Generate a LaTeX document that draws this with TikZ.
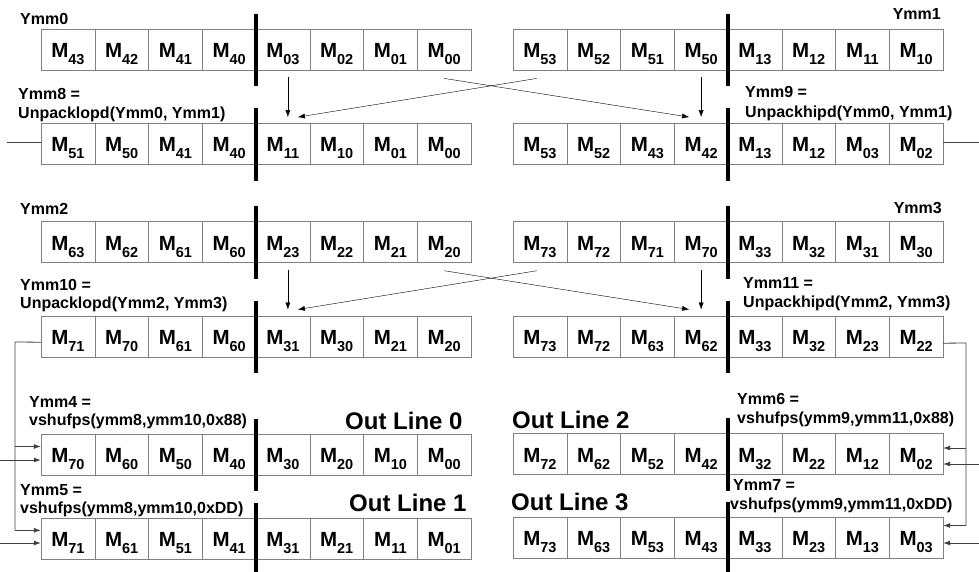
\documentclass[tikz,border=0pt]{standalone}
\usepackage{fontspec}
\setmainfont{Liberation Sans}
\usetikzlibrary{arrows.meta,positioning}

\newcommand{\Msub}[1]{M\raisebox{-7pt}{\fontsize{14.5}{14.5}\selectfont #1}}
\newcommand{\ymmrow}[4]{%
  \foreach \s [count=\i] in {#4}
    \node[cell] (#1-\i) at ({#2+(\i-0.5)*53.75},#3) {\Msub{\s}};
  \draw[lane] ([yshift=15pt]#1-4.north east) -- ([yshift=-16pt]#1-4.south east);
}

\begin{document}
\begin{tikzpicture}[x=1pt,y=-1pt,>={Latex[length=7pt,width=5pt]},
    cell/.style={draw=gray,minimum width=53.75pt,minimum height=41pt,inner sep=0pt,
      text height=24pt,text depth=8pt,font=\fontsize{20.5}{24}\selectfont\bfseries},
    lane/.style={line width=4pt},
    lbl/.style={anchor=base west,inner sep=0pt,font=\fontsize{16}{18}\selectfont\bfseries},
    lblr/.style={lbl,anchor=base east},
    outlbl/.style={lbl,font=\fontsize{24}{28}\selectfont\bfseries},
    link/.style={black!75,line width=0.8pt}]

    \useasboundingbox (0,0) rectangle (979,571);

    \ymmrow{ymm0}{41}{49.7}{43,42,41,40,03,02,01,00}
    \ymmrow{ymm1}{513}{49.7}{53,52,51,50,13,12,11,10}
    \ymmrow{ymm8}{41}{143.8}{51,50,41,40,11,10,01,00}
    \ymmrow{ymm9}{513}{143.8}{53,52,43,42,13,12,03,02}
    \ymmrow{ymm2}{41}{242}{63,62,61,60,23,22,21,20}
    \ymmrow{ymm3}{513}{242}{73,72,71,70,33,32,31,30}
    \ymmrow{ymm10}{41}{336.2}{71,70,61,60,31,30,21,20}
    \ymmrow{ymm11}{513}{336.2}{73,72,63,62,33,32,23,22}
    \ymmrow{ymm4}{41}{454.5}{70,60,50,40,30,20,10,00}
    \ymmrow{ymm6}{513}{454}{72,62,52,42,32,22,12,02}
    \ymmrow{ymm5}{41}{538.3}{71,61,51,41,31,21,11,01}
    \ymmrow{ymm7}{513}{537.5}{73,63,53,43,33,23,13,03}

    \node[lbl] (n0) at (20,24) {Ymm0};
    \node[lblr] (n1) at (941,19) {Ymm1};
    \node[lbl] (n8) at (18,99) {Ymm8 =};
    \node[lbl] (n8op) at (18,118) {Unpacklopd(Ymm0, Ymm1)};
    \node[lbl] (n9) at (745,97) {Ymm9 =};
    \node[lbl] (n9op) at (745,117) {Unpackhipd(Ymm0, Ymm1)};
    \node[lbl] (n2) at (20,214) {Ymm2};
    \node[lblr] (n3) at (942,213) {Ymm3};
    \node[lbl] (n10) at (20,290) {Ymm10 =};
    \node[lbl] (n10op) at (20,308) {Unpacklopd(Ymm2, Ymm3)};
    \node[lbl] (n11) at (743,288) {Ymm11 =};
    \node[lbl] (n11op) at (743,307) {Unpackhipd(Ymm2, Ymm3)};
    \node[lbl] (n4) at (29,407) {Ymm4 =};
    \node[lbl] (n4op) at (29,425) {vshufps(ymm8,ymm10,0x88)};
    \node[lbl] (n5) at (20,495) {Ymm5 =};
    \node[lbl] (n5op) at (20,513) {vshufps(ymm8,ymm10,0xDD)};
    \node[lbl] (n6) at (737,404) {Ymm6 =};
    \node[lbl] (n6op) at (737,423) {vshufps(ymm9,ymm11,0x88)};
    \node[lbl] (n7) at (733,490) {Ymm7 =};
    \node[lbl] (n7op) at (730,509) {vshufps(ymm9,ymm11,0xDD)};
    \node[outlbl] (out0) at (345,429) {Out Line 0};
    \node[outlbl] (out1) at (349,511) {Out Line 1};
    \node[outlbl] (out2) at (512,428) {Out Line 2};
    \node[outlbl] (out3) at (511,510) {Out Line 3};

    \draw[->] ([xshift=5pt,yshift=-7pt]ymm0-5.south) -- ([xshift=5pt,yshift=6pt]ymm8-5.north);
    \draw[->] ([xshift=-3pt,yshift=-8pt]ymm1-1.south) -- ([xshift=15pt,yshift=6pt]ymm8-5.north);
    \draw[->] ([yshift=-8pt]ymm0-8.south) -- ([xshift=-12pt,yshift=6pt]ymm9-4.north);
    \draw[->] ([yshift=-7pt]ymm1-4.south) -- ([yshift=6pt]ymm9-4.north);
    \draw[->] ([xshift=5pt,yshift=-7pt]ymm2-5.south) -- ([xshift=5pt,yshift=6pt]ymm10-5.north);
    \draw[->] ([xshift=-3pt,yshift=-8pt]ymm3-1.south) -- ([xshift=15pt,yshift=6pt]ymm10-5.north);
    \draw[->] ([yshift=-8pt]ymm2-8.south) -- ([xshift=-12pt,yshift=6pt]ymm11-4.north);
    \draw[->] ([yshift=-7pt]ymm3-4.south) -- ([yshift=6pt]ymm11-4.north);

    \draw[link] ([yshift=1pt]ymm8-1.west) -- ++(-34,0);
    \draw[link] ([yshift=1pt]ymm9-8.east) -- ++(36,0);

    \coordinate (tapL) at (15,342);
    \coordinate (tapR) at (966,343);
    \coordinate (inL4) at ([yshift=8pt]ymm4-1.west);
    \coordinate (inL5) at ([yshift=8pt]ymm5-1.west);
    \coordinate (inR6) at ([yshift=6pt]ymm6-8.east);
    \coordinate (inR7) at ([yshift=12pt]ymm7-8.east);
    \draw[link] ([yshift=-6pt]ymm10-1.west) -- (tapL) -- (tapL |- inL5);
    \draw[link,->] (tapL |- inL4) -- (inL4);
    \draw[link,->] (tapL |- inL5) -- (inL5);
    \draw[link] ([yshift=-7pt]ymm11-8.east) -- (tapR) -- (tapR |- inR7);
    \draw[link,->] (tapR |- inR6) -- (inR6);
    \draw[link,->] (tapR |- inR7) -- (inR7);

    \coordinate (srcL4) at (0,460);
    \coordinate (srcL5) at (0,543);
    \coordinate (srcR6) at (979,464);
    \coordinate (srcR7) at (979,543);
    \draw[link,->] (srcL4) -- (srcL4 -| ymm4-1.west);
    \draw[link,->] (srcL5) -- (srcL5 -| ymm5-1.west);
    \draw[link,->] (srcR6) -- (srcR6 -| ymm6-8.east);
    \draw[link,->] (srcR7) -- (srcR7 -| ymm7-8.east);
\end{tikzpicture}
\end{document}
